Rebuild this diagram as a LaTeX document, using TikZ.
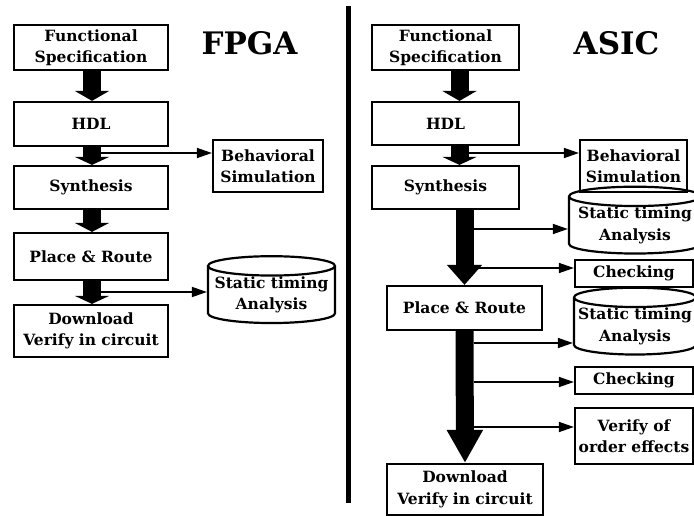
\documentclass[tikz,border=0pt]{standalone}
\usepackage{fontspec}
\setmainfont{DejaVu Serif}
\usetikzlibrary{arrows.meta,shapes.geometric}

\tikzset{
  stage/.style={draw, line width=2.2pt, align=center, inner sep=0pt,
    font=\bfseries\fontsize{15.5}{21.5}\selectfont},
  drum/.style={stage, cylinder, shape border rotate=90, aspect=0.17},
  title/.style={font=\bfseries\fontsize{31}{34}\selectfont},
  bigarrow/.style={draw, line width=18pt, -{Triangle[width=34pt,length=#1]}},
  bigarrow/.default=9pt,
  tap/.style={draw, line width=1.6pt, -{Triangle[width=10pt,length=15pt]}}
}

\begin{document}
\begin{tikzpicture}[x=1pt,y=-1pt]
\useasboundingbox (0,0) rectangle (694,516);

% FPGA flow
\node[title] (fpga) at (249.5,43) {FPGA};
\node[stage, minimum width=154pt, minimum height=45pt] (spec1) at (91,47.5) {Functional\\Specification};
\node[stage, minimum width=154pt, minimum height=44pt] (hdl1) at (91,124) {HDL};
\node[stage, minimum width=154pt, minimum height=43pt] (syn1) at (91,187.5) {Synthesis};
\node[stage, minimum width=154pt, minimum height=47pt] (pr1) at (91,256.5) {Place \& Route};
\node[stage, minimum width=154pt, minimum height=52pt] (dl1) at (91,331) {Download\\Verify in circuit};
\node[stage, minimum width=110pt, minimum height=52pt] (beh1) at (268,166) {Behavioral\\Simulation};
\node[drum, minimum width=127pt, minimum height=60pt] (sta1) at (271.5,295) {Static timing\\Analysis};

\draw[bigarrow=10pt] ([xshift=1pt]spec1.south) -- ([xshift=1pt]hdl1.north);
\draw[bigarrow=8pt] ([xshift=1pt]hdl1.south) -- ([xshift=1pt]syn1.north);
\draw[bigarrow=9pt] ([xshift=1pt]syn1.south) -- ([xshift=1pt]pr1.north);
\draw[bigarrow=8pt] ([xshift=1pt]pr1.south) -- ([xshift=1pt]dl1.north);

\coordinate (f1) at (101,153);
\coordinate (f2) at (101,292);
\draw[tap] (f1) -- (f1 -| beh1.west);
\draw[tap] (f2) -- (f2 -| sta1.west);

% divider
\draw[line width=5pt] (348.5,6) -- (348.5,503);

% ASIC flow
\node[title] (asic) at (616.5,43) {ASIC};
\node[stage, minimum width=147pt, minimum height=45pt] (spec2) at (445.5,47.5) {Functional\\Specification};
\node[stage, minimum width=147pt, minimum height=43pt] (hdl2) at (445.5,123.5) {HDL};
\node[stage, minimum width=147pt, minimum height=43pt] (syn2) at (445.5,187.5) {Synthesis};
\node[stage, minimum width=155pt, minimum height=44pt] (pr2) at (464.5,308) {Place \& Route};
\node[stage, minimum width=156pt, minimum height=51pt] (dl2) at (465,489.5) {Download\\Verify in circuit};
\node[stage, minimum width=107pt, minimum height=52pt] (beh2) at (633.5,166) {Behavioral\\Simulation};
\node[drum, minimum width=132pt, minimum height=57pt] (sta2) at (635,225.5) {Static timing\\Analysis};
\node[stage, minimum width=118pt, minimum height=27pt] (chk2) at (634,273.5) {Checking};
\node[drum, minimum width=122pt, minimum height=59pt] (sta3) at (635,326.5) {Static timing\\Analysis};
\node[stage, minimum width=118pt, minimum height=27pt] (chk3) at (634,380.5) {Checking};
\node[stage, minimum width=118pt, minimum height=56pt] (ord2) at (634,436) {Verify of\\order effects};

\draw[bigarrow=10pt] ([xshift=14pt]spec2.south) -- ([xshift=14pt]hdl2.north);
\draw[bigarrow=8pt] ([xshift=14pt]hdl2.south) -- ([xshift=14pt]syn2.north);
\draw[bigarrow=20pt] (pr2.north |- syn2.south) -- (pr2.north);
\draw[bigarrow=33pt] (pr2.south) -- (dl2.north);

\coordinate (f3) at (468,153);
\coordinate (f4) at (474,229);
\coordinate (f5) at (474,268);
\coordinate (f6) at (474,343);
\coordinate (f7) at (474,382);
\coordinate (f8) at (474,427);
\draw[tap] (f3) -- (f3 -| beh2.west);
\draw[tap] (f4) -- (f4 -| sta2.west);
\draw[tap] (f5) -- (f5 -| chk2.west);
\draw[tap] (f6) -- (f6 -| sta3.west);
\draw[tap] (f7) -- (f7 -| chk3.west);
\draw[tap] (f8) -- (f8 -| ord2.west);
\end{tikzpicture}
\end{document}
